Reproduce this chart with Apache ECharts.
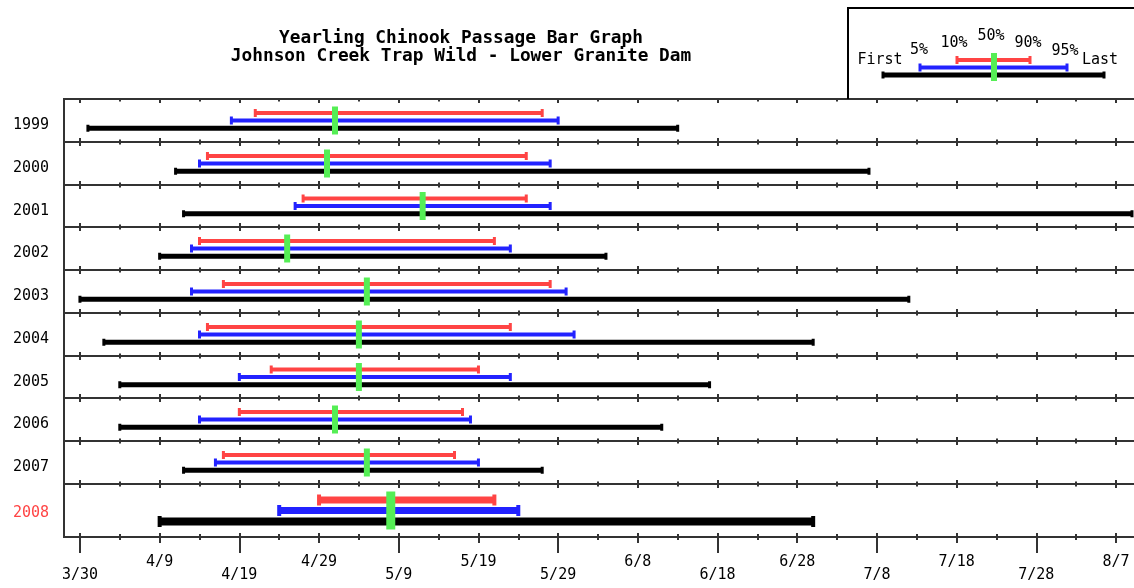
<!DOCTYPE html>
<html><head><meta charset="utf-8">
<script src="https://cdn.jsdelivr.net/npm/echarts@6/dist/echarts.min.js"></script>
<style>html,body{margin:0;padding:0;background:#fff}#c{width:1134px;height:588px}</style>
</head><body><div id="c"></div>
<script>
// ---- data (dates as M/D) ----
const years     = ['1999','2000','2001','2002','2003','2004','2005','2006','2007','2008'];
const firstDate = ['3/31','4/11','4/12','4/9','3/30','4/2','4/4','4/4','4/12','4/9'];
const p5Date    = ['4/18','4/14','4/26','4/13','4/13','4/14','4/19','4/14','4/16','4/24'];
const p10Date   = ['4/21','4/15','4/27','4/14','4/17','4/15','4/23','4/19','4/17','4/29'];
const p50Date   = ['5/1','4/30','5/12','4/25','5/5','5/4','5/4','5/1','5/5','5/8'];
const p90Date   = ['5/27','5/25','5/25','5/21','5/28','5/23','5/19','5/17','5/16','5/21'];
const p95Date   = ['5/29','5/28','5/28','5/23','5/30','5/31','5/23','5/18','5/19','5/24'];
const lastDate  = ['6/13','7/7','8/9','6/4','7/12','6/30','6/17','6/11','5/27','6/30'];
const tickLabels = ['3/30','4/9','4/19','4/29','5/9','5/19','5/29','6/8','6/18','6/28','7/8','7/18','7/28','8/7','8/17'];
const minorTickDates = ['4/4','4/14','4/24','5/4','5/14','5/24','6/3','6/13','6/23','7/3','7/13','7/23','8/2','8/12'];
const legendLabels = ['First','5%','10%','50%','90%','95%','Last'];
const titleLines = ['Yearling Chinook Passage Bar Graph','Johnson Creek Trap Wild - Lower Granite Dam'];

// day offset from 3/30 (non-leap calendar)
const monthBase = {3:-30, 4:1, 5:31, 6:62, 7:92, 8:123};
function toDay(md){ const p = md.split('/').map(Number); return monthBase[p[0]] + p[1]; }

const majorDays = tickLabels.map(toDay);
const labelDays = majorDays.slice(0, 14);
const evenDays = majorDays.filter((d, i) => i % 2 === 0);
const minorDays = minorTickDates.map(toDay);

const RED = '#ff4444', BLUE = '#2222ff', GREEN = '#55ee55', BLACK = '#000';
const LINE = '#333';
const FONT = 'DejaVu Sans Mono';
const XMIN = -2, XMAX = 140, PXDAY = 7.97;
const nRows = years.length;
const rowTop = i => i < nRows - 1 ? Math.round(99 + i * (484 - 99) / 9) : 484;
const rowH = i => i < nRows - 1 ? rowTop(i + 1) - rowTop(i) : 53;

const grids = [], xAxes = [], yAxes = [], series = [];

function xa(g, o) {
  const a = {type:'value', gridIndex:g, min:XMIN, max:XMAX, position:'bottom', offset:0,
    axisLine:{show:false, onZero:false}, axisTick:{show:false}, axisLabel:{show:false}, splitLine:{show:false}};
  Object.assign(a, o);
  xAxes.push(a);
  return xAxes.length - 1;
}
function ticks(values, length, inside) {
  return {show:true, customValues: values, length: length, inside: !!inside, lineStyle:{color:LINE, width:2}};
}

for (let i = 0; i < nRows; i++) {
  const last = i === nRows - 1;
  grids.push({left:64, width:(XMAX - XMIN) * PXDAY, top:rowTop(i), height:rowH(i),
    outerBoundsMode:'none', containLabel:false,
    show:true, borderColor:LINE, borderWidth:2, backgroundColor:'transparent'});
  yAxes.push({type:'category', gridIndex:i, data:[years[i]], axisLine:{show:false}, axisTick:{show:false},
    splitLine:{show:false},
    axisLabel:{margin:15, fontSize:15, fontFamily:FONT, verticalAlign:'top', lineHeight: last ? 6 : 10,
      color: last ? '#ff4444' : '#000'}});
  let mainX;
  if (!last) {
    mainX = xa(i, {offset:-4, axisTick: ticks(majorDays, 8)});
    xa(i, {offset:-2.5, axisTick: ticks(minorDays, 5)});
  } else {
    mainX = xa(i, {offset:-4, axisTick: ticks(majorDays, 10)});
    xa(i, {offset:-4, axisTick: ticks(evenDays, 20)});
    xa(i, {offset:-3, axisTick: ticks(minorDays, 6)});
    xa(i, {offset:0, axisLabel:{show:true, customValues: labelDays, margin:18, fontSize:15, fontFamily:FONT,
      color:'#000', lineHeight:13.6,
      formatter: function (v) {
        const k = labelDays.indexOf(v);
        if (k < 0) return '';
        return k % 2 === 0 ? '\n' + tickLabels[k] : tickLabels[k];
      }}});
  }
  if (i === 0) {
    xa(i, {position:'top', axisTick: ticks(majorDays, 4, true)});
    xa(i, {position:'top', axisTick: ticks(minorDays, 2.5, true)});
  }
  const S = last
    ? {dr:-10.5, db:11, lw:7, lwB:8, cw:4, ch:11, chB:11, gw:9, gh1:19, gh2:19}
    : {dr:-7.5, db:7.75, lw:4, lwB:5, cw:3, ch:8, chB:7, gw:6, gh1:14, gh2:14};
  series.push({
    type:'custom', xAxisIndex:mainX, yAxisIndex:i, clip:false,
    encode:{x:[0,1,2,3,4,5,6], y:7},
    data:[[toDay(firstDate[i]), toDay(p5Date[i]), toDay(p10Date[i]), toDay(p50Date[i]),
           toDay(p90Date[i]), toDay(p95Date[i]), toDay(lastDate[i]), 0]],
    renderItem: function (params, api) {
      const yv = api.value(7);
      const px = k => api.coord([api.value(k), yv])[0];
      const yc = api.coord([api.value(0), yv])[1];
      const out = [];
      function bar(x1, x2, y, lw, color, cw, ch) {
        out.push({type:'line', shape:{x1:x1, y1:y, x2:x2, y2:y}, style:{stroke:color, lineWidth:lw}});
        out.push({type:'rect', shape:{x:x1 - cw/2, y:y - ch/2, width:cw, height:ch}, style:{fill:color}});
        out.push({type:'rect', shape:{x:x2 - cw/2, y:y - ch/2, width:cw, height:ch}, style:{fill:color}});
      }
      bar(px(2), px(4), yc + S.dr, S.lw, RED, S.cw, S.ch);
      bar(px(1), px(5), yc, S.lw, BLUE, S.cw, S.ch);
      bar(px(0), px(6), yc + S.db, S.lwB, BLACK, S.cw, S.chB);
      const gx = px(3);
      out.push({type:'rect', shape:{x:gx - S.gw/2, y:yc - S.gh1, width:S.gw, height:S.gh1 + S.gh2}, style:{fill:GREEN}});
      return {type:'group', children:out};
    }
  });
}

// legend (sample glyph)
const legText = (t, x, y) => ({type:'text', x:x, y:y, style:{text:t, fill:'#000', font:'15px "DejaVu Sans Mono"', align:'center', verticalAlign:'middle'}});
const legBar = (x1, x2, y, lw, c, ch) => [
  {type:'line', shape:{x1:x1, y1:y, x2:x2, y2:y}, style:{stroke:c, lineWidth:lw}},
  {type:'rect', shape:{x:x1 - 1.5, y:y - ch/2, width:3, height:ch}, style:{fill:c}},
  {type:'rect', shape:{x:x2 - 1.5, y:y - ch/2, width:3, height:ch}, style:{fill:c}}
];
const legendEls = [
  {type:'polyline', shape:{points:[[848, 99], [848, 8], [1134, 8]]}, style:{stroke:'#000', lineWidth:2, fill:null}},
  legText(legendLabels[0], 880, 60),
  legText(legendLabels[1], 919, 50),
  legText(legendLabels[2], 954, 43),
  legText(legendLabels[3], 991, 36),
  legText(legendLabels[4], 1028, 43),
  legText(legendLabels[5], 1065, 51),
  legText(legendLabels[6], 1100, 60)
].concat(legBar(957, 1030, 60, 4, RED, 8), legBar(920, 1067, 67.5, 4, BLUE, 8), legBar(883, 1104, 75, 5, BLACK, 7),
  [{type:'rect', shape:{x:991, y:53, width:6, height:28}, style:{fill:GREEN}}]);

const chart = echarts.init(document.getElementById('c'), null, {renderer:'canvas'});
chart.setOption({
  backgroundColor:'#fff',
  animation:false,
  title:{text:titleLines.join('\n'), left:456, top:24, textAlign:'center',
    textStyle:{fontFamily:FONT, fontWeight:'bold', fontSize:17.8, lineHeight:18, color:'#000'}},
  grid:grids, xAxis:xAxes, yAxis:yAxes, series:series,
  graphic:{elements:legendEls}
});
</script></body></html>
